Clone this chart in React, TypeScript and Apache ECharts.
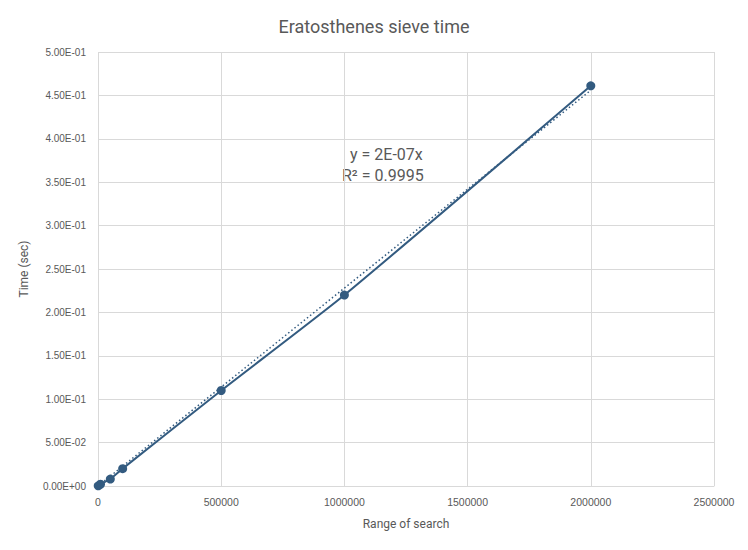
import React, { useEffect, useRef } from "react";
import * as echarts from "echarts";

const rangeOfSearch = [1000, 10000, 50000, 100000, 500000, 1000000, 2000000];
const timeSec = [0.0002, 0.002, 0.008, 0.02, 0.11, 0.22, 0.461];
const trendSlope = 2.28e-7;
const trendX = [0, 2000000];
const titleText = "Eratosthenes sieve time";
const equationText = "y = 2E-07x";
const r2Text = "R² = 0.9995";

function sci(v: number): string {
  if (v === 0) return "0.00E+00";
  const e = Math.floor(Math.log10(Math.abs(v)) + 1e-9);
  const m = v / Math.pow(10, e);
  const sign = e < 0 ? "-" : "+";
  const ae = Math.abs(e);
  return m.toFixed(2) + "E" + sign + (ae < 10 ? "0" + ae : String(ae));
}

export default function App() {
  const ref = useRef<HTMLDivElement>(null);
  useEffect(() => {
    if (!ref.current) return;
    const chart = echarts.init(ref.current, undefined, { renderer: "svg" });
    const textColor = "#595959";
    const lineColor = "#335b80";
    chart.setOption({
      animation: false,
      backgroundColor: "#ffffff",
      title: {
        text: titleText,
        left: "center",
        top: 12,
        textStyle: { color: textColor, fontSize: 18, fontWeight: "normal", fontFamily: "Roboto, Arial, sans-serif" },
      },
      grid: { left: 98, right: 34, top: 52, bottom: 64 },
      xAxis: {
        type: "value",
        min: 0,
        max: 2500000,
        interval: 500000,
        name: "Range of search",
        nameLocation: "middle",
        nameGap: 32,
        nameTextStyle: { color: textColor, fontSize: 12, fontFamily: "Roboto, Arial, sans-serif" },
        axisLine: { show: true, lineStyle: { color: "#d9d9d9" } },
        axisTick: { show: false },
        axisLabel: { color: textColor, fontSize: 10.5, margin: 10, formatter: (v: number) => String(v), fontFamily: "Arial, sans-serif" },
        splitLine: { show: true, lineStyle: { color: "#d9d9d9", width: 1 } },
      },
      yAxis: {
        type: "value",
        min: 0,
        max: 0.5,
        interval: 0.05,
        name: "Time (sec)",
        nameLocation: "middle",
        nameRotate: 90,
        nameGap: 68,
        nameTextStyle: { color: textColor, fontSize: 12, fontFamily: "Roboto, Arial, sans-serif" },
        axisLine: { show: false },
        axisTick: { show: false },
        axisLabel: { color: textColor, fontSize: 10, margin: 12, formatter: (v: number) => sci(v), fontFamily: "Arial, sans-serif" },
        splitLine: { show: true, lineStyle: { color: "#d9d9d9", width: 1 } },
      },
      graphic: [
        {
          type: "rect",
          left: 0,
          top: 0,
          shape: { width: 747, height: 549 },
          style: { fill: "none", stroke: "#d9d9d9", lineWidth: 1 },
          silent: true,
        },
        {
          type: "text",
          left: 350,
          top: 146,
          style: { text: equationText, fill: textColor, font: "16px Roboto, Arial, sans-serif" },
        },
        {
          type: "text",
          left: 342,
          top: 167,
          style: { text: r2Text, fill: textColor, font: "16px Roboto, Arial, sans-serif" },
        },
      ],
      series: [
        {
          type: "line",
          data: trendX.map((x) => [x, x * trendSlope]),
          symbol: "none",
          lineStyle: { color: lineColor, width: 1.5, type: [1.5, 2.5] },
          z: 1,
        },
        {
          type: "line",
          data: rangeOfSearch.map((x, i) => [x, timeSec[i]]),
          smooth: 0.2,
          symbol: "circle",
          symbolSize: 9,
          itemStyle: { color: lineColor },
          lineStyle: { color: lineColor, width: 2 },
          z: 2,
        },
      ],
    });
    return () => chart.dispose();
  }, []);
  return <div ref={ref} style={{ width: 748, height: 550, margin: -8 }} />;
}
